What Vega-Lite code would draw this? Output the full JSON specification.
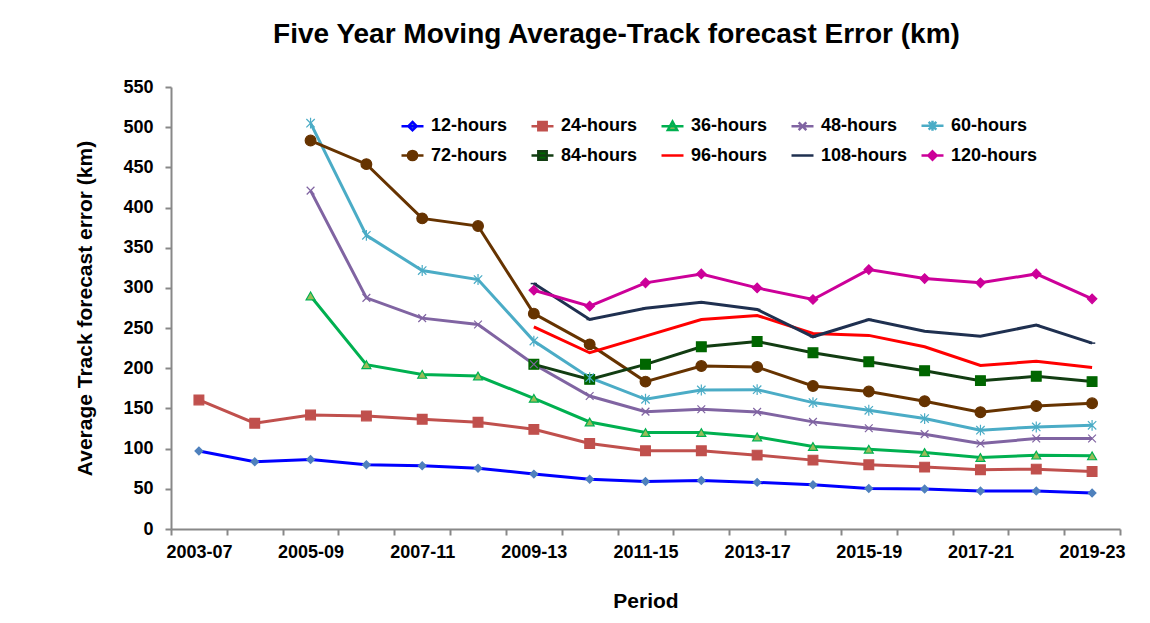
{
  "$schema": "https://vega.github.io/schema/vega-lite/v6.json",
  "autosize": "none",
  "width": 949,
  "height": 442,
  "padding": {"left": 171, "top": 87, "right": 30, "bottom": 94},
  "background": "white",
  "config": {
    "font": "Liberation Sans",
    "view": {"stroke": null},
    "axis": {
      "domainColor": "#888888", "domainWidth": 2, "tickColor": "#888888", "tickWidth": 2, "tickSize": 6,
      "labelFont": "Liberation Sans", "labelFontWeight": "bold", "labelFontSize": 18, "labelColor": "#000000",
      "titleFont": "Liberation Sans", "titleFontWeight": "bold", "titleFontSize": 21, "titleColor": "#000000",
      "grid": false
    }
  },
  "title": {
    "text": "Five Year Moving Average-Track forecast Error (km)",
    "font": "Liberation Sans", "fontSize": 28, "fontWeight": "bold", "color": "#000000",
    "anchor": "middle", "dx": -29, "offset": 29
  },
  "data": {"values": [
    {"period":"2003-07","series":"12-hours","value":97},
    {"period":"2004-08","series":"12-hours","value":83.6},
    {"period":"2005-09","series":"12-hours","value":86.5},
    {"period":"2006-10","series":"12-hours","value":79.9},
    {"period":"2007-11","series":"12-hours","value":78.6},
    {"period":"2008-12","series":"12-hours","value":75.7},
    {"period":"2009-13","series":"12-hours","value":68.3},
    {"period":"2010-14","series":"12-hours","value":62},
    {"period":"2011-15","series":"12-hours","value":59.2},
    {"period":"2012-16","series":"12-hours","value":60.4},
    {"period":"2013-17","series":"12-hours","value":58},
    {"period":"2014-18","series":"12-hours","value":55},
    {"period":"2015-19","series":"12-hours","value":50.5},
    {"period":"2016-20","series":"12-hours","value":49.7},
    {"period":"2017-21","series":"12-hours","value":47.2},
    {"period":"2018-22","series":"12-hours","value":47.2},
    {"period":"2019-23","series":"12-hours","value":44.7},
    {"period":"2003-07","series":"24-hours","value":160.6},
    {"period":"2004-08","series":"24-hours","value":131.6},
    {"period":"2005-09","series":"24-hours","value":141.9},
    {"period":"2006-10","series":"24-hours","value":140.7},
    {"period":"2007-11","series":"24-hours","value":136.6},
    {"period":"2008-12","series":"24-hours","value":132.8},
    {"period":"2009-13","series":"24-hours","value":124},
    {"period":"2010-14","series":"24-hours","value":106.4},
    {"period":"2011-15","series":"24-hours","value":97.3},
    {"period":"2012-16","series":"24-hours","value":97.3},
    {"period":"2013-17","series":"24-hours","value":91.9},
    {"period":"2014-18","series":"24-hours","value":85.7},
    {"period":"2015-19","series":"24-hours","value":79.9},
    {"period":"2016-20","series":"24-hours","value":77},
    {"period":"2017-21","series":"24-hours","value":73.7},
    {"period":"2018-22","series":"24-hours","value":74.5},
    {"period":"2019-23","series":"24-hours","value":71.6},
    {"period":"2005-09","series":"36-hours","value":290},
    {"period":"2006-10","series":"36-hours","value":204.5},
    {"period":"2007-11","series":"36-hours","value":192.4},
    {"period":"2008-12","series":"36-hours","value":190.4},
    {"period":"2009-13","series":"36-hours","value":162.6},
    {"period":"2010-14","series":"36-hours","value":133.2},
    {"period":"2011-15","series":"36-hours","value":120},
    {"period":"2012-16","series":"36-hours","value":120},
    {"period":"2013-17","series":"36-hours","value":114.6},
    {"period":"2014-18","series":"36-hours","value":102.7},
    {"period":"2015-19","series":"36-hours","value":99.3},
    {"period":"2016-20","series":"36-hours","value":95.2},
    {"period":"2017-21","series":"36-hours","value":89},
    {"period":"2018-22","series":"36-hours","value":91.9},
    {"period":"2019-23","series":"36-hours","value":91},
    {"period":"2005-09","series":"48-hours","value":421},
    {"period":"2006-10","series":"48-hours","value":287.6},
    {"period":"2007-11","series":"48-hours","value":262.4},
    {"period":"2008-12","series":"48-hours","value":254.5},
    {"period":"2009-13","series":"48-hours","value":205},
    {"period":"2010-14","series":"48-hours","value":165.5},
    {"period":"2011-15","series":"48-hours","value":146},
    {"period":"2012-16","series":"48-hours","value":149},
    {"period":"2013-17","series":"48-hours","value":145.7},
    {"period":"2014-18","series":"48-hours","value":133.3},
    {"period":"2015-19","series":"48-hours","value":125.4},
    {"period":"2016-20","series":"48-hours","value":118},
    {"period":"2017-21","series":"48-hours","value":106.4},
    {"period":"2018-22","series":"48-hours","value":112.6},
    {"period":"2019-23","series":"48-hours","value":112.6},
    {"period":"2005-09","series":"60-hours","value":505},
    {"period":"2006-10","series":"60-hours","value":365.4},
    {"period":"2007-11","series":"60-hours","value":321.6},
    {"period":"2008-12","series":"60-hours","value":310.4},
    {"period":"2009-13","series":"60-hours","value":233.8},
    {"period":"2010-14","series":"60-hours","value":188.3},
    {"period":"2011-15","series":"60-hours","value":161.4},
    {"period":"2012-16","series":"60-hours","value":173},
    {"period":"2013-17","series":"60-hours","value":173.4},
    {"period":"2014-18","series":"60-hours","value":157.3},
    {"period":"2015-19","series":"60-hours","value":147.7},
    {"period":"2016-20","series":"60-hours","value":137.4},
    {"period":"2017-21","series":"60-hours","value":123},
    {"period":"2018-22","series":"60-hours","value":127},
    {"period":"2019-23","series":"60-hours","value":129},
    {"period":"2005-09","series":"72-hours","value":483.4},
    {"period":"2006-10","series":"72-hours","value":454},
    {"period":"2007-11","series":"72-hours","value":386.5},
    {"period":"2008-12","series":"72-hours","value":377},
    {"period":"2009-13","series":"72-hours","value":268},
    {"period":"2010-14","series":"72-hours","value":229.7},
    {"period":"2011-15","series":"72-hours","value":183.4},
    {"period":"2012-16","series":"72-hours","value":202.8},
    {"period":"2013-17","series":"72-hours","value":201.5},
    {"period":"2014-18","series":"72-hours","value":178},
    {"period":"2015-19","series":"72-hours","value":171},
    {"period":"2016-20","series":"72-hours","value":159},
    {"period":"2017-21","series":"72-hours","value":145.3},
    {"period":"2018-22","series":"72-hours","value":153},
    {"period":"2019-23","series":"72-hours","value":156.4},
    {"period":"2009-13","series":"84-hours","value":204.9},
    {"period":"2010-14","series":"84-hours","value":186.2},
    {"period":"2011-15","series":"84-hours","value":204.9},
    {"period":"2012-16","series":"84-hours","value":226.8},
    {"period":"2013-17","series":"84-hours","value":233.4},
    {"period":"2014-18","series":"84-hours","value":219.3},
    {"period":"2015-19","series":"84-hours","value":208},
    {"period":"2016-20","series":"84-hours","value":197},
    {"period":"2017-21","series":"84-hours","value":184.6},
    {"period":"2018-22","series":"84-hours","value":190},
    {"period":"2019-23","series":"84-hours","value":183.4},
    {"period":"2009-13","series":"96-hours","value":251.6},
    {"period":"2010-14","series":"96-hours","value":219.3},
    {"period":"2011-15","series":"96-hours","value":240},
    {"period":"2012-16","series":"96-hours","value":260.7},
    {"period":"2013-17","series":"96-hours","value":265.7},
    {"period":"2014-18","series":"96-hours","value":243.4},
    {"period":"2015-19","series":"96-hours","value":240.9},
    {"period":"2016-20","series":"96-hours","value":226.8},
    {"period":"2017-21","series":"96-hours","value":203.6},
    {"period":"2018-22","series":"96-hours","value":208.6},
    {"period":"2019-23","series":"96-hours","value":201.1},
    {"period":"2009-13","series":"108-hours","value":305.4},
    {"period":"2010-14","series":"108-hours","value":260.7},
    {"period":"2011-15","series":"108-hours","value":274.8},
    {"period":"2012-16","series":"108-hours","value":282.2},
    {"period":"2013-17","series":"108-hours","value":273.2},
    {"period":"2014-18","series":"108-hours","value":239.2},
    {"period":"2015-19","series":"108-hours","value":260.7},
    {"period":"2016-20","series":"108-hours","value":246.2},
    {"period":"2017-21","series":"108-hours","value":240},
    {"period":"2018-22","series":"108-hours","value":253.7},
    {"period":"2019-23","series":"108-hours","value":231.3},
    {"period":"2009-13","series":"120-hours","value":297.1},
    {"period":"2010-14","series":"120-hours","value":277.3},
    {"period":"2011-15","series":"120-hours","value":306.3},
    {"period":"2012-16","series":"120-hours","value":317.4},
    {"period":"2013-17","series":"120-hours","value":300},
    {"period":"2014-18","series":"120-hours","value":285.6},
    {"period":"2015-19","series":"120-hours","value":322.8},
    {"period":"2016-20","series":"120-hours","value":311.6},
    {"period":"2017-21","series":"120-hours","value":306.3},
    {"period":"2018-22","series":"120-hours","value":317.4},
    {"period":"2019-23","series":"120-hours","value":286.4}
  ]},
  "encoding": {
    "x": {
      "field": "period", "type": "ordinal", "sort": null,
      "scale": {"paddingInner": 0, "paddingOuter": 0},
      "axis": {
        "title": "Period", "labelAngle": 0, "tickBand": "extent", "labelPadding": 8,
        "labelExpr": "indexof(['2003-07','2005-09','2007-11','2009-13','2011-15','2013-17','2015-19','2017-21','2019-23'], datum.value) >= 0 ? datum.value : ''",
        "titleY": 78, "titleBaseline": "alphabetic"
      }
    },
    "y": {
      "field": "value", "type": "quantitative",
      "scale": {"domain": [0, 550], "nice": false},
      "axis": {
        "title": "Average Track forecast error (km)",
        "values": [0,50,100,150,200,250,300,350,400,450,500,550],
        "labelPadding": 12, "titleX": -86, "titleBaseline": "middle"
      }
    }
  },
  "layer": [
    {
      "mark": {"type": "line", "strokeWidth": 3},
      "encoding": {
        "color": {
          "field": "series", "type": "nominal",
          "scale": {
            "domain": ["12-hours","24-hours","36-hours","48-hours","60-hours","72-hours","84-hours","96-hours","108-hours","120-hours"],
            "range": ["#0000ff","#c0504d","#00b050","#8064a2","#4bacc6","#663300","#123d12","#ff0000","#1f3050","#cc0099"]
          },
          "legend": {
            "title": null, "orient": "none", "legendX": 229, "legendY": 26, "direction": "horizontal", "columns": 5,
            "gridAlign": "all", "columnPadding": 8, "rowPadding": 7, "padding": 0,
            "symbolType": "M-1,0L1,0",
            "symbolSize": 484, "symbolStrokeWidth": 2.5, "labelOffset": 6,
            "labelFont": "Liberation Sans", "labelFontWeight": "bold", "labelFontSize": 18, "labelColor": "#000000", "labelLimit": 200,
            "encode": {
              "symbols": {
                "update": {
                  "shape": {"signal": "datum.value === '12-hours' || datum.value === '120-hours' ? 'M-1,0L1,0M0,-0.38L0.38,0L0,0.38L-0.38,0Z' : (datum.value === '24-hours' || datum.value === '84-hours') ? 'M-1,0L1,0M-0.38,-0.38L0.38,-0.38L0.38,0.38L-0.38,0.38Z' : datum.value === '36-hours' ? 'M-1,0L1,0M0,-0.42L0.42,0.35L-0.42,0.35Z' : datum.value === '48-hours' ? 'M-1,0L1,0M-0.35,-0.35L0.35,0.35M-0.35,0.35L0.35,-0.35' : datum.value === '60-hours' ? 'M-1,0L1,0M-0.35,-0.35L0.35,0.35M-0.35,0.35L0.35,-0.35M0,-0.45L0,0.45' : datum.value === '72-hours' ? 'M-1,0L1,0M0.42,0A0.42,0.42,0,1,1,-0.42,0A0.42,0.42,0,1,1,0.42,0Z' : 'M-1,0L1,0'"},
                  "fill": {"signal": "scale('fill', datum.value)"},
                  "opacity": {"value": 1}
                }
              }
            }
          }
        }
      }
    },
    {
      "encoding": {
        "fill": {
          "field": "series", "type": "nominal", "legend": null,
          "scale": {
            "domain": ["12-hours","24-hours","36-hours","48-hours","60-hours","72-hours","84-hours","96-hours","108-hours","120-hours"],
            "range": ["#4f81bd","#c0504d","#9bbb59","#8064a2","#4bacc6","#663300","#006600","#ff0000","#1f3050","#cc0099"]
          }
        },
        "stroke": {
          "field": "series", "type": "nominal", "legend": null,
          "scale": {
            "domain": ["12-hours","24-hours","36-hours","48-hours","60-hours","72-hours","84-hours","96-hours","108-hours","120-hours"],
            "range": ["#4f81bd","#c0504d","#00b050","#8064a2","#4bacc6","#663300","#006600","#ff0000","#1f3050","#cc0099"]
          }
        }
      },
      "layer": [
        {
          "transform": [{"filter": "datum.series === '12-hours'"}],
          "mark": {"type": "point", "filled": true, "strokeWidth": 1.2, "opacity": 1, "shape": "diamond", "size": 60}
        },
        {
          "transform": [{"filter": "datum.series === '24-hours' || datum.series === '84-hours'"}],
          "mark": {"type": "point", "filled": true, "strokeWidth": 1.2, "opacity": 1, "shape": "square", "size": 95}
        },
        {
          "transform": [{"filter": "datum.series === '36-hours'"}],
          "mark": {"type": "point", "filled": true, "strokeWidth": 1.2, "opacity": 1, "shape": "triangle-up", "size": 80}
        },
        {
          "transform": [{"filter": "datum.series === '48-hours'"}],
          "mark": {"type": "point", "filled": true, "strokeWidth": 1.2, "opacity": 1, "shape": "M-1,-1L1,1M-1,1L1,-1", "size": 60}
        },
        {
          "transform": [{"filter": "datum.series === '60-hours'"}],
          "mark": {"type": "point", "filled": true, "strokeWidth": 1.2, "opacity": 1, "shape": "M-1,-1L1,1M-1,1L1,-1M0,-1.3L0,1.3", "size": 70}
        },
        {
          "transform": [{"filter": "datum.series === '72-hours'"}],
          "mark": {"type": "point", "filled": true, "strokeWidth": 1.2, "opacity": 1, "shape": "circle", "size": 115}
        },
        {
          "transform": [{"filter": "datum.series === '108-hours'"}],
          "mark": {"type": "point", "filled": true, "strokeWidth": 1.5, "opacity": 1, "shape": "M-1,0L1,0", "size": 40}
        },
        {
          "transform": [{"filter": "datum.series === '120-hours'"}],
          "mark": {"type": "point", "filled": true, "strokeWidth": 1.2, "opacity": 1, "shape": "diamond", "size": 90}
        }
      ]
    }
  ]
}
